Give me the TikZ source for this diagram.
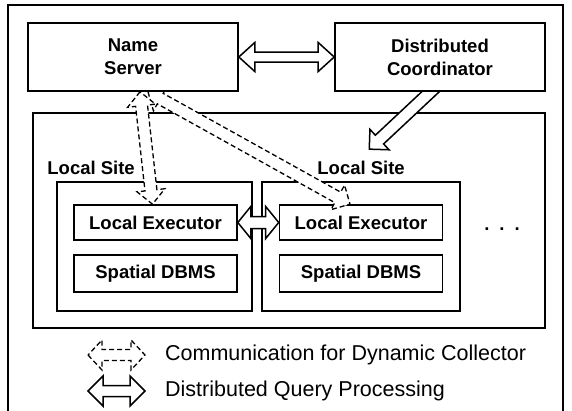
\documentclass[tikz,border=0pt]{standalone}
\usepackage{fontspec}
\setmainfont{Liberation Sans}
\usetikzlibrary{calc}

\pgfdeclarelayer{top}
\pgfsetlayers{main,top}

% hollow block arrow, two heads
% #2 from, #3 to, #4 shaft half width, #5 head half width, #6 head length
\newcommand{\blockarrows}[6][]{%
  \draw[#1] let \p1=($(#3)-(#2)$), \n1={atan2(\y1,\x1)}, \n2={veclen(\x1,\y1)} in
    [shift={(#2)}, rotate=\n1]
    (0,0) -- (#6,#5) -- (#6,#4) -- (\n2-#6,#4) -- (\n2-#6,#5) -- (\n2,0)
    -- (\n2-#6,-#5) -- (\n2-#6,-#4) -- (#6,-#4) -- (#6,-#5) -- cycle;}
% same, one head, open tail
\newcommand{\blockarrow}[6][]{%
  \draw[#1] let \p1=($(#3)-(#2)$), \n1={atan2(\y1,\x1)}, \n2={veclen(\x1,\y1)} in
    [shift={(#2)}, rotate=\n1]
    (0,#4) -- (\n2-#6,#4) -- (\n2-#6,#5) -- (\n2,0)
    -- (\n2-#6,-#5) -- (\n2-#6,-#4) -- (0,-#4);}

\begin{document}
\begin{tikzpicture}[x=1pt,y=-1pt,
  box/.style={draw,line width=1.6pt,inner sep=0pt,align=center,
    font=\fontsize{18.5}{23}\selectfont\bfseries},
  sitelabel/.style={inner sep=0pt,font=\fontsize{18.5}{23}\selectfont\bfseries},
  legendtext/.style={inner sep=0pt,anchor=west,font=\fontsize{21.5}{26}\selectfont},
  query/.style={line width=1.5pt,fill=white},
  collect/.style={line width=1.3pt,fill=white,dash pattern=on 5pt off 3pt}]
\useasboundingbox (0,0) rectangle (572,410);
\draw[line width=1.6pt] (8,5) rectangle (563,416);

% servers on top
\begin{pgfonlayer}{top}
\node[box,fill=white,minimum width=210pt,minimum height=68pt] (ns) at (133,57) {Name\\Server};
\node[box,fill=white,minimum width=210pt,minimum height=68pt] (dc) at (440,57) {Distributed\\Coordinator};
\end{pgfonlayer}

% sites
\node[box,minimum width=512pt,minimum height=215pt] (sites) at (289,220.5) {};
\node[box,minimum width=195pt,minimum height=129pt] (ls1) at (154.5,246.5) {};
\node[box,minimum width=198pt,minimum height=129pt] (ls2) at (361,246.5) {};
\node[sitelabel,anchor=base west] (lab1) at ($(ls1.north west)+(-9,-7)$) {Local Site};
\node[sitelabel,anchor=base west] (lab2) at ($(ls2.north west)+(56,-7)$) {Local Site};
\node[box,minimum width=163pt,minimum height=35pt] (le1) at (155.5,222.5) {Local Executor};
\node[box,minimum width=163pt,minimum height=37pt] (db1) at (155.5,273.5) {Spatial DBMS};
\node[box,minimum width=163pt,minimum height=35pt] (le2) at (361,222.5) {Local Executor};
\node[box,minimum width=163pt,minimum height=37pt] (db2) at (361,273.5) {Spatial DBMS};
\node[sitelabel] (more) at (502,229) {.\hspace{10pt}.\hspace{10pt}.};

% query processing
\blockarrows[query]{ns.east}{dc.west}{5}{14.5}{16}
\blockarrows[query]{le1.east}{le2.west}{6}{16}{13}
\coordinate (dcfoot) at ($(dc.south)+(-1,-8)$);
\coordinate (dctip) at ($(ls2.north west)+(108,-32)$);
\blockarrow[query]{dcfoot}{dctip}{6}{14}{14}

% dynamic collector
\coordinate (nsA) at ($(ns.south)+(7,0)$);
\coordinate (nsB) at ($(ns.south)+(15,0)$);
\coordinate (le1top) at ($(le1.north)+(-3,0)$);
\coordinate (le2top) at ($(le2.north)+(-11,0)$);
\blockarrows[collect]{nsB}{le2top}{6}{14}{14}
\blockarrows[collect]{nsA}{le1top}{6}{14}{14}

% legend
\coordinate (lgDa) at (88,355);
\coordinate (lgDb) at (145,355);
\coordinate (lgSa) at (88,391);
\coordinate (lgSb) at (145,391);
\blockarrows[collect]{lgDa}{lgDb}{5.5}{15}{14}
\blockarrows[query]{lgSa}{lgSb}{5.5}{15}{15}
\node[legendtext] (lgD) at (165,355) {Communication for Dynamic Collector};
\node[legendtext] (lgS) at (165,391) {Distributed Query Processing};
\end{tikzpicture}
\end{document}
